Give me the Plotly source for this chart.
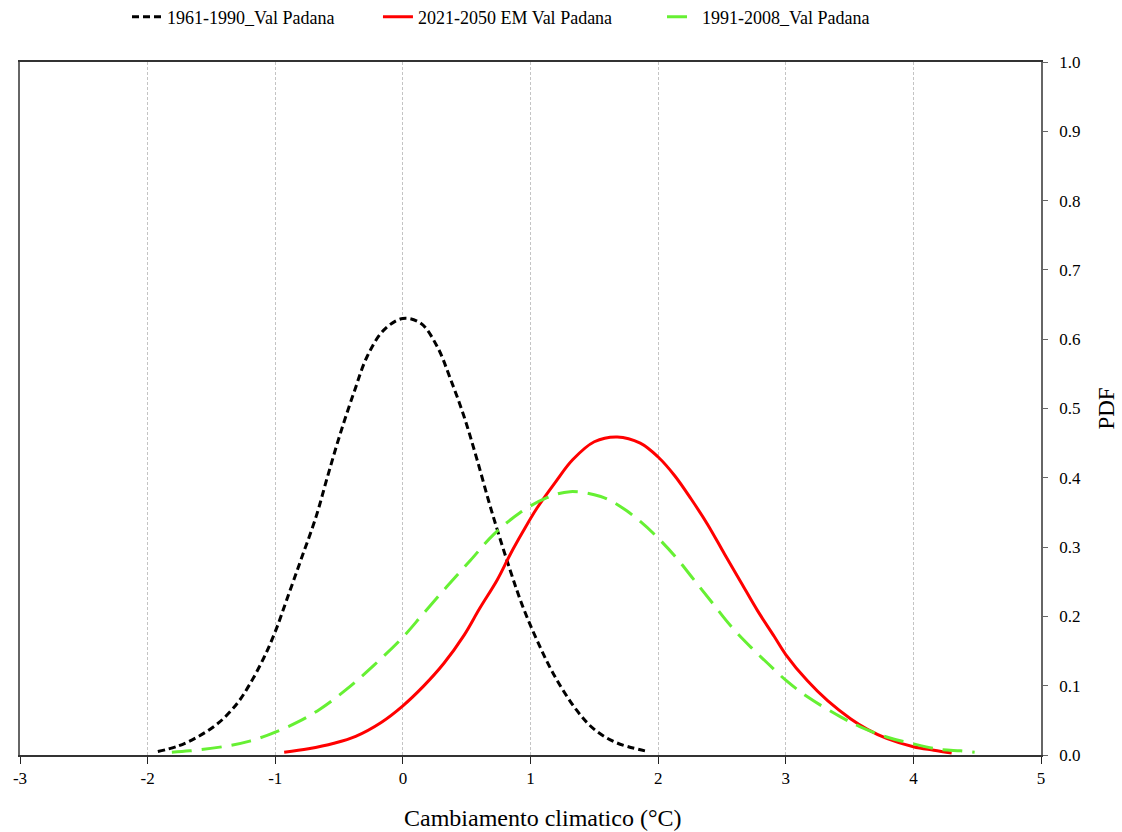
import plotly.graph_objects as go

# ---- data ----
x_1961 = [-1.92, -1.76, -1.60, -1.44, -1.30, -1.20, -1.09, -1.0, -0.91, -0.80, -0.68, -0.59, -0.49, -0.38,
          -0.28, -0.15, 0.0, 0.14, 0.27, 0.37, 0.48, 0.58, 0.70, 0.84, 0.94, 1.05, 1.18, 1.36, 1.50, 1.67, 1.92]
y_1961 = [0.005, 0.013, 0.027, 0.047, 0.074, 0.102, 0.140, 0.178, 0.224, 0.281, 0.344, 0.402, 0.464, 0.525,
          0.575, 0.613, 0.630, 0.623, 0.589, 0.544, 0.488, 0.427, 0.349, 0.267, 0.214, 0.166, 0.117, 0.065,
          0.037, 0.018, 0.005]

x_2021 = [-0.93, -0.74, -0.54, -0.37, -0.17, 0.0, 0.16, 0.32, 0.48, 0.60, 0.74, 0.84, 0.94, 1.05, 1.20, 1.33,
          1.50, 1.68, 1.86, 2.0, 2.13, 2.26, 2.39, 2.52, 2.65, 2.78, 2.91, 3.0, 3.17, 3.33, 3.51, 3.64, 3.79,
          4.0, 4.16, 4.30]
y_2021 = [0.004, 0.009, 0.017, 0.027, 0.047, 0.071, 0.099, 0.132, 0.173, 0.211, 0.253, 0.289, 0.322, 0.356,
          0.395, 0.426, 0.452, 0.459, 0.450, 0.430, 0.403, 0.369, 0.332, 0.290, 0.249, 0.208, 0.171, 0.145,
          0.107, 0.078, 0.052, 0.037, 0.024, 0.012, 0.007, 0.003]

x_1991 = [-1.81, -1.67, -1.41, -1.20, -1.0, -0.83, -0.65, -0.44, -0.23, 0.0, 0.16, 0.345, 0.53, 0.71, 0.92,
          1.125, 1.31, 1.55, 1.71, 1.86, 2.0, 2.15, 2.28, 2.41, 2.57, 2.73, 2.86, 3.0, 3.17, 3.43, 3.58, 3.79,
          4.0, 4.21, 4.37, 4.48]
y_1991 = [0.004, 0.006, 0.012, 0.020, 0.033, 0.047, 0.066, 0.095, 0.129, 0.170, 0.204, 0.243, 0.281, 0.318,
          0.350, 0.371, 0.380, 0.373, 0.358, 0.337, 0.313, 0.283, 0.253, 0.223, 0.186, 0.155, 0.132, 0.108,
          0.084, 0.055, 0.041, 0.026, 0.016, 0.008, 0.006, 0.004]

names = ["1961-1990_Val Padana", "2021-2050 EM Val Padana", "1991-2008_Val Padana"]
x_ticks = [-3, -2, -1, 0, 1, 2, 3, 4, 5]
y_ticks = [0.0, 0.1, 0.2, 0.3, 0.4, 0.5, 0.6, 0.7, 0.8, 0.9, 1.0]
x_title = "Cambiamento climatico (°C)"
y_title = "PDF"

FONT = "Liberation Serif"

fig = go.Figure()
fig.add_trace(go.Scatter(x=x_1961, y=y_1961, mode="lines", name=names[0], legend="legend",
                         line=dict(color="#000000", width=3, dash="7px,4px", shape="spline", smoothing=1.0)))
fig.add_trace(go.Scatter(x=x_2021, y=y_2021, mode="lines", name=names[1], legend="legend2",
                         line=dict(color="#FF0000", width=3, shape="spline", smoothing=1.0)))
fig.add_trace(go.Scatter(x=x_1991, y=y_1991, mode="lines", name=names[2], legend="legend3",
                         line=dict(color="#66F033", width=3, dash="20px,10px", shape="spline", smoothing=1.0)))

leg_common = dict(orientation="h", yanchor="middle", y=1.065, xanchor="left",
                  font=dict(family=FONT, size=18, color="#000"), bgcolor="rgba(0,0,0,0)")

fig.update_layout(
    width=1122, height=832,
    margin=dict(l=20, r=81, t=62, b=77, autoexpand=False),
    paper_bgcolor="white", plot_bgcolor="white",
    font=dict(family=FONT, color="#000"),
    showlegend=True,
    legend=dict(x=0.1048, **leg_common),
    legend2=dict(x=0.3506, **leg_common),
    legend3=dict(x=0.6288, **leg_common),
    xaxis=dict(range=[-3, 5], tickmode="array", tickvals=x_ticks, ticktext=[str(v) for v in x_ticks],
               showgrid=True, gridcolor="#c4c4c4", griddash="3px,2px", gridwidth=1,
               showline=True, linecolor="#333", linewidth=1.5, mirror=True,
               ticks="outside", ticklen=7, tickcolor="#222", zeroline=False,
               tickfont=dict(family=FONT, size=17)),
    yaxis=dict(range=[0, 1.0], side="right", tickmode="array", tickvals=y_ticks,
               ticktext=[f"{v:.1f}" for v in y_ticks],
               showgrid=False, showline=True, linecolor="#666", linewidth=1.5, mirror=True,
               ticks="outside", ticklen=5, tickcolor="#666", zeroline=False, ticklabelstandoff=8,
               tickfont=dict(family=FONT, size=17),
               title=dict(text=y_title, font=dict(family=FONT, size=23), standoff=18)),
    annotations=[dict(text=x_title, xref="paper", yref="paper", x=0.5127, y=-0.0909,
                      xanchor="center", yanchor="middle", showarrow=False,
                      font=dict(family=FONT, size=24, color="#000"))],
)

fig.write_html("out.html")
